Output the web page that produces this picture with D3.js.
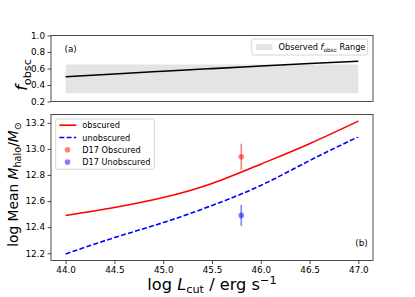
<!DOCTYPE html>
<html>
<head>
<meta charset="utf-8">
<script src="https://cdn.jsdelivr.net/npm/d3@7"></script>
<style>
  body { margin: 0; background: #fff; }
  svg { font-family: "DejaVu Sans", sans-serif; }
</style>
</head>
<body>
<svg id="chart" width="415" height="297"></svg>
<script>
// two stacked panels: f_obsc on top, mean halo mass below

const lcut = [44.0, 44.5, 45.0, 45.5, 46.0, 46.5, 47.0];
const fobsc = [0.500, 0.534, 0.567, 0.599, 0.630, 0.660, 0.688];
const fobscRange = [0.30, 0.65];
const obscMass = [12.49, 12.551, 12.627, 12.735, 12.883, 13.04, 13.213];
const unobscMass = [12.195, 12.32, 12.435, 12.566, 12.72, 12.91, 13.093];
const d17 = [
    {name: "D17 Obscured", x: 45.8, y: 12.94, err: 0.10, col: "rgba(255,0,0,0.5)"},
    {name: "D17 Unobscured", x: 45.8, y: 12.49, err: 0.08, col: "rgba(0,0,255,0.5)"}
];
const xTicks = [44.0, 44.5, 45.0, 45.5, 46.0, 46.5, 47.0];
const yTicksTop = [0.2, 0.4, 0.6, 0.8, 1.0];
const yTicksBot = [12.2, 12.4, 12.6, 12.8, 13.0, 13.2];

const svg = d3.select("#chart");
const left = 51, right = 373;
const top1 = 35.5, bot1 = 101.5;
const top2 = 114.5, bot2 = 260.5;
const tickFont = 8.8;
const legFont = 8.2;

let x = d3.scaleLinear().domain([43.85, 47.15]).range([left, right]);
let y1 = d3.scaleLinear().domain([0.2, 1.0]).range([bot1, top1]);
let y2 = d3.scaleLinear().domain([12.1445, 13.2635]).range([bot2, top2]);

function styleAxis(g) {
    g.selectAll("text").style("font-size", tickFont + "px").attr("fill", "#000")
        .style("font-family", "DejaVu Sans");
    g.selectAll("line").attr("stroke", "#222").attr("stroke-width", 0.8);
    g.select(".domain").remove();
}

/////////////////
// top panel
/////////////////

svg.append("path")
    .datum(lcut)
    .attr("d", d3.area().x(d => x(d)).y0(y1(fobscRange[0])).y1(y1(fobscRange[1])))
    .attr("fill", "#e4e4e4");

svg.append("path")
    .datum(lcut)
    .attr("d", d3.line().x(d => x(d)).y((d, i) => y1(fobsc[i])).curve(d3.curveNatural))
    .attr("fill", "none")
    .attr("stroke", "#000")
    .attr("stroke-width", 1.6);

svg.append("g")
    .attr("transform", "translate(" + left + ",0)")
    .call(d3.axisLeft(y1).tickValues(yTicksTop).tickFormat(d3.format(".1f")).tickSize(3.5).tickPadding(2.5))
    .call(styleAxis);

svg.append("rect")
    .attr("x", left).attr("y", top1)
    .attr("width", right - left).attr("height", bot1 - top1)
    .attr("fill", "none").attr("stroke", "#222").attr("stroke-width", 0.8);

svg.append("text").attr("x", 64.5).attr("y", 52)
    .style("font-size", tickFont + "px").text("(a)");

// legend top
let lg1 = svg.append("g");
lg1.append("rect")
    .attr("x", 251.7).attr("y", 39).attr("width", 116).attr("height", 16).attr("rx", 2)
    .attr("fill", "#fff").attr("fill-opacity", 0.8)
    .attr("stroke", "#ccc").attr("stroke-width", 0.8);
lg1.append("rect")
    .attr("x", 256).attr("y", 44.2).attr("width", 16.5).attr("height", 5.8)
    .attr("fill", "#e4e4e4");
let lt1 = lg1.append("text").attr("x", 278.5).attr("y", 50.2).style("font-size", legFont + "px");
lt1.append("tspan").text("Observed ");
lt1.append("tspan").style("font-style", "italic").text("f");
lt1.append("tspan").attr("dy", 1.6).style("font-size", "5.8px").text("obsc");
lt1.append("tspan").attr("dy", -1.6).text(" Range");

// y label top
let yl1 = svg.append("text")
    .attr("transform", "translate(27," + 75 + ") rotate(-90)")
    .style("font-size", "16px")
    .attr("text-anchor", "middle");
yl1.append("tspan").style("font-style", "italic").text("f");
yl1.append("tspan").attr("dy", 3.7).style("font-size", "11.2px").text("obsc");

/////////////////
// bottom panel
/////////////////

svg.append("path")
    .datum(lcut)
    .attr("d", d3.line().x(d => x(d)).y((d, i) => y2(obscMass[i])).curve(d3.curveNatural))
    .attr("fill", "none")
    .attr("stroke", "#ff0000")
    .attr("stroke-width", 1.6);

svg.append("path")
    .datum(lcut)
    .attr("d", d3.line().x(d => x(d)).y((d, i) => y2(unobscMass[i])).curve(d3.curveNatural))
    .attr("fill", "none")
    .attr("stroke", "#0000ff")
    .attr("stroke-width", 1.6)
    .attr("stroke-dasharray", "5,2.3");

d17.forEach(function(p) {
    svg.append("line")
        .attr("x1", x(p.x)).attr("x2", x(p.x))
        .attr("y1", y2(p.y - p.err)).attr("y2", y2(p.y + p.err))
        .attr("stroke", p.col).attr("stroke-width", 1.6);
    svg.append("circle")
        .attr("cx", x(p.x)).attr("cy", y2(p.y)).attr("r", 2.8)
        .attr("fill", p.col);
});

svg.append("g")
    .attr("transform", "translate(0," + bot2 + ")")
    .call(d3.axisBottom(x).tickValues(xTicks).tickFormat(d3.format(".1f")).tickSize(3.5).tickPadding(2.5))
    .call(styleAxis);

svg.append("g")
    .attr("transform", "translate(" + left + ",0)")
    .call(d3.axisLeft(y2).tickValues(yTicksBot).tickFormat(d3.format(".1f")).tickSize(3.5).tickPadding(2.5))
    .call(styleAxis);

svg.append("rect")
    .attr("x", left).attr("y", top2)
    .attr("width", right - left).attr("height", bot2 - top2)
    .attr("fill", "none").attr("stroke", "#222").attr("stroke-width", 0.8);

svg.append("text").attr("x", 367.7).attr("y", 245.5)
    .attr("text-anchor", "end")
    .style("font-size", tickFont + "px").text("(b)");

// legend bottom
let lg2 = svg.append("g");
lg2.append("rect")
    .attr("x", 55.7).attr("y", 119).attr("width", 98.6).attr("height", 50.3).attr("rx", 2)
    .attr("fill", "#fff").attr("fill-opacity", 0.8)
    .attr("stroke", "#ccc").attr("stroke-width", 0.8);
let rows = [
    {name: "obscured", col: "#ff0000", dash: null},
    {name: "unobscured", col: "#0000ff", dash: "5,2.3"}
];
rows.forEach(function(r, i) {
    let yy = 125.2 + i * 12.3;
    lg2.append("line")
        .attr("x1", 59.3).attr("x2", 76.3).attr("y1", yy).attr("y2", yy)
        .attr("stroke", r.col).attr("stroke-width", 1.6)
        .attr("stroke-dasharray", r.dash);
    lg2.append("text").attr("x", 82.3).attr("y", yy + 3)
        .style("font-size", legFont + "px").text(r.name);
});
d17.forEach(function(p, i) {
    let yy = 125.2 + (i + 2) * 12.3;
    lg2.append("circle").attr("cx", 67.5).attr("cy", yy).attr("r", 2.8).attr("fill", p.col);
    lg2.append("text").attr("x", 82.3).attr("y", yy + 3)
        .style("font-size", legFont + "px").text(p.name);
});

// axis labels
let yl2 = svg.append("text")
    .attr("transform", "translate(18," + ((top2 + bot2) / 2 - 3) + ") rotate(-90)")
    .style("font-size", "13.8px")
    .attr("text-anchor", "middle");
yl2.append("tspan").text("log Mean ");
yl2.append("tspan").style("font-style", "italic").text("M");
yl2.append("tspan").attr("dy", 2.5).style("font-size", "9.7px").text("halo");
yl2.append("tspan").attr("dy", -2.5).text("/");
yl2.append("tspan").style("font-style", "italic").text("M");
yl2.append("tspan").attr("dy", 2.5).style("font-size", "9.7px").text("\u2299");

let xl = svg.append("text")
    .attr("x", (left + right) / 2).attr("y", 290)
    .style("font-size", "16.2px")
    .attr("text-anchor", "middle");
xl.append("tspan").text("log ");
xl.append("tspan").style("font-style", "italic").text("L");
xl.append("tspan").attr("dy", 3.2).style("font-size", "11.3px").text("cut");
xl.append("tspan").attr("dy", -3.2).text(" / erg s");
xl.append("tspan").attr("dy", -6.5).style("font-size", "11.3px").text("\u22121");
</script>
</body>
</html>
